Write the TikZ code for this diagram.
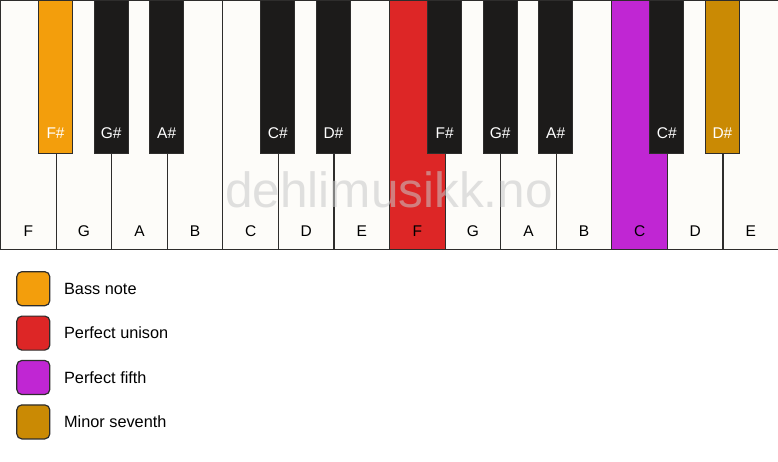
\documentclass[tikz,border=0pt]{standalone}
\usepackage{fontspec}
\setmainfont{Liberation Sans}
\usetikzlibrary{positioning}

\definecolor{keywhite}{HTML}{FDFCF9}
\definecolor{keyblack}{HTML}{1C1B1A}
\definecolor{keyline}{HTML}{2E2D2C}
\definecolor{keyorange}{HTML}{F39E0C}
\definecolor{keyred}{HTML}{DD2626}
\definecolor{keypurple}{HTML}{C026D3}
\definecolor{keygold}{HTML}{CA8A04}
\definecolor{markgray}{HTML}{C8C8C8}

\tikzset{
  whitekey/.style={draw=keyline, line width=1.2pt, fill=keywhite, minimum width=55.571pt, minimum height=249pt, anchor=north west, inner sep=0pt},
  blackkey/.style={draw=keyline, line width=1.2pt, fill=keyblack, minimum width=34pt, minimum height=153pt, anchor=north, inner sep=0pt},
  keyname/.style={font=\fontsize{15.5}{18}\selectfont, inner sep=0pt},
  legendbox/.style={draw=keyline, line width=1.2pt, rounded corners=5pt, minimum width=33pt, minimum height=34pt, inner sep=0pt},
  legendtext/.style={font=\fontsize{16.3}{19}\selectfont, inner sep=0pt}
}

\begin{document}
\begin{tikzpicture}[x=1pt, y=1pt]
  \useasboundingbox[fill=white] (0,0) rectangle (778,461);

  % White keys
  \foreach \n/\c [count=\i from 0] in {F/keywhite, G/keywhite, A/keywhite, B/keywhite, C/keywhite, D/keywhite, E/keywhite, F/keyred, G/keywhite, A/keywhite, B/keywhite, C/keypurple, D/keywhite, E/keywhite} {
    \node[whitekey, fill=\c] (w\i) at (\i*55.571, 461) {};
    \node[keyname] (wl\i) at ([yshift=19pt]w\i.south) {\n};
  }

  % Black keys
  \foreach \j/\n/\c in {1/F\#/keyorange, 2/G\#/keyblack, 3/A\#/keyblack, 5/C\#/keyblack, 6/D\#/keyblack, 8/F\#/keyblack, 9/G\#/keyblack, 10/A\#/keyblack, 12/C\#/keyblack, 13/D\#/keygold} {
    \node[blackkey, fill=\c] (b\j) at (\j*55.571, 461) {};
    \node[keyname, text=white] (bl\j) at ([yshift=21pt]b\j.south) {\n};
  }

  % Watermark
  \node[font=\fontsize{49.5}{58}\selectfont, text=markgray, opacity=0.55, anchor=base, inner sep=0pt] (mark) at (389, 253) {dehlimusikk.no};

  % Legend
  \node[legendbox, fill=keyorange] (bass) at (33.3, 172.3) {};
  \node[legendbox, fill=keyred, below=9.2pt of bass] (unison) {};
  \node[legendbox, fill=keypurple, below=9.2pt of unison] (fifth) {};
  \node[legendbox, fill=keygold, below=9.2pt of fifth] (seventh) {};
  \node[legendtext, right=13.5pt of bass] (basstext) {Bass note};
  \node[legendtext, right=13.5pt of unison] (unisontext) {Perfect unison};
  \node[legendtext, right=13.5pt of fifth] (fifthtext) {Perfect fifth};
  \node[legendtext, right=13.5pt of seventh] (seventhtext) {Minor seventh};
\end{tikzpicture}
\end{document}
